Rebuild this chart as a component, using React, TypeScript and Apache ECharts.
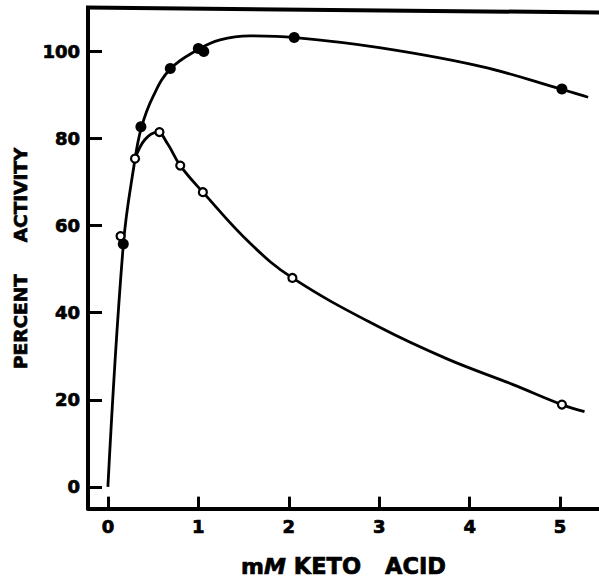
import React, { useEffect, useRef } from 'react';
import * as echarts from 'echarts';

const xTicks = [0, 1, 2, 3, 4, 5];
const yTicks = [0, 20, 40, 60, 80, 100];

// measured data points (mM keto acid, percent activity)
const filledPoints = [
  [0.17, 55.8], [0.365, 82.7], [0.69, 96.1], [1.0, 100.7], [1.06, 100.0], [2.06, 103.2], [5.02, 91.4],
];
const openPoints = [
  [0.14, 57.6], [0.3, 75.4], [0.57, 81.5], [0.8, 73.8], [1.05, 67.7], [2.04, 48.0], [5.02, 18.9],
];

// points
const filledCurve = [
  [0, 0], [0.17, 55.5], [0.29, 74], [0.37, 82.5], [0.5, 89.7], [0.69, 96], [1.0, 100.5],
  [1.24, 102.7], [1.57, 103.6], [2.07, 103.2], [3.0, 100.9], [4.12, 96.6], [5.02, 91.3], [5.31, 89.5],
];
const openCurve = [
  [0.3, 75.4], [0.41, 79.8], [0.55, 81.5], [0.66, 78.8], [0.8, 73.8], [1.05, 67.7], [1.57, 56],
  [2.04, 48], [3.0, 36.7], [3.75, 29.4], [4.48, 23.5], [5.02, 18.9], [5.27, 17.3],
];

const xName = '{m|m}{M|M}{g1| }{t|KETO}{g2| }{t|ACID}';
const yName = '{a|PERCENT}{g| }{a|ACTIVITY}';

export default function App() {
  const ref = useRef<HTMLDivElement>(null);
  useEffect(() => {
    document.body.style.margin = '0';
    const chart = echarts.init(ref.current!, null, { renderer: 'svg' });
    const heavy = { textBorderColor: '#000', textBorderWidth: 0.7 };
    const labelStyle = {
      color: '#000',
      fontSize: 18,
      fontWeight: 'bold' as const,
      fontFamily: 'DejaVu Sans',
      ...heavy,
    };
    chart.setOption({
      animation: false,
      backgroundColor: '#fff',
      grid: { left: 88, right: 0, top: 8, bottom: 70 },
      xAxis: {
        type: 'value',
        min: -0.22,
        max: 5.43,
        splitLine: { show: false },
        axisLine: { onZero: false, lineStyle: { color: '#000', width: 4 } },
        axisTick: { inside: true, length: 12, customValues: xTicks, lineStyle: { color: '#000', width: 3 } },
        axisLabel: { ...labelStyle, customValues: xTicks, margin: 9 },
        name: xName,
        nameLocation: 'middle',
        nameGap: 46,
        nameTextStyle: {
          color: '#000',
          rich: {
            m: { fontFamily: 'DejaVu Sans', fontWeight: 'bold', fontSize: 22, color: '#000', ...heavy },
            M: { fontFamily: 'DejaVu Sans', fontWeight: 'bold', fontStyle: 'italic', fontSize: 22, color: '#000', ...heavy },
            t: { fontFamily: 'DejaVu Sans', fontWeight: 'bold', fontSize: 22.5, color: '#000', ...heavy },
            g1: { width: 8, fontSize: 22 },
            g2: { width: 24, fontSize: 22 },
          },
        },
      },
      yAxis: {
        type: 'value',
        min: -5,
        max: 110,
        splitLine: { show: false },
        axisLine: { onZero: false, lineStyle: { color: '#000', width: 4 } },
        axisTick: { inside: true, length: 14, customValues: yTicks, lineStyle: { color: '#000', width: 3 } },
        axisLabel: { ...labelStyle, customValues: yTicks, margin: 8 },
        name: yName,
        nameLocation: 'middle',
        nameGap: 58,
        nameTextStyle: {
          color: '#000',
          rich: {
            a: { fontFamily: 'DejaVu Sans', fontWeight: 'bold', fontSize: 18.5, color: '#000', ...heavy },
            g: { width: 32, fontSize: 18.5 },
          },
        },
      },
      graphic: [
        {
          type: 'line',
          shape: { x1: 86, y1: 7.5, x2: 599, y2: 12.5 },
          style: { stroke: '#000', lineWidth: 4 },
          z: 10,
        },
      ],
      series: [
        {
          type: 'line',
          data: filledCurve,
          smooth: 0.4,
          showSymbol: false,
          lineStyle: { color: '#000', width: 2.8 },
          z: 2,
        },
        {
          type: 'line',
          data: openCurve,
          smooth: 0.4,
          showSymbol: false,
          lineStyle: { color: '#000', width: 2.8 },
          z: 2,
        },
        {
          type: 'scatter',
          data: filledPoints,
          symbol: 'circle',
          symbolSize: 11,
          itemStyle: { color: '#000', opacity: 1 },
          z: 3,
        },
        {
          type: 'scatter',
          data: openPoints,
          symbol: 'circle',
          symbolSize: 8,
          itemStyle: { color: '#fff', borderColor: '#000', borderWidth: 2.2, opacity: 1 },
          z: 4,
        },
      ],
    });
    return () => chart.dispose();
  }, []);
  return <div ref={ref} style={{ width: 599, height: 583 }} />;
}
